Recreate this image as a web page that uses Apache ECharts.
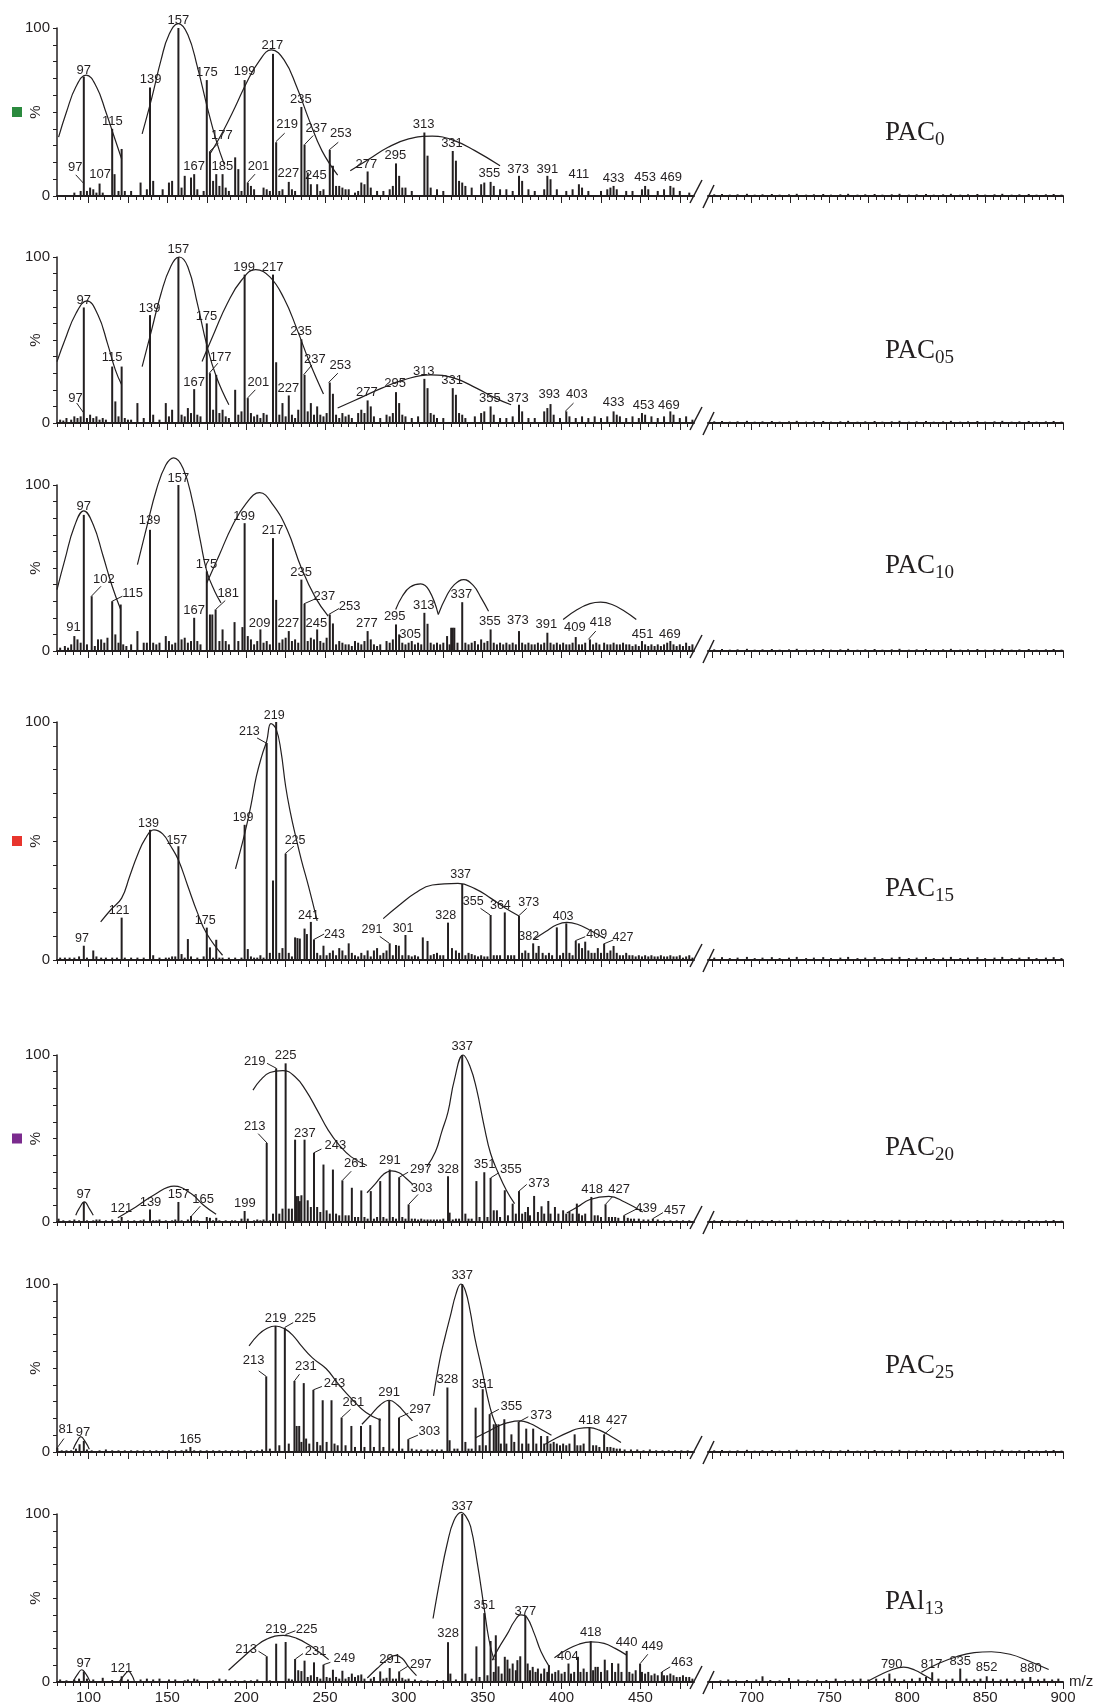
<!DOCTYPE html>
<html><head><meta charset="utf-8">
<script src="https://cdn.jsdelivr.net/npm/echarts@6/dist/echarts.min.js"></script>
<style>html,body{margin:0;padding:0;background:#fff}#c{width:1096px;height:1707px}</style>
</head><body><div id="c"></div>
<script>
// ---------------- DATA ----------------
const panelNames = [['PAC','0'],['PAC','05'],['PAC','10'],['PAC','15'],['PAC','20'],['PAC','25'],['PAl','13']];

const leftMajorTicks = [100,125,150,175,200,225,250,275,300,325,350,375,400,425,450,475];
const leftTickLabels = [100,150,200,250,300,350,400,450];
const rightMajorTicks = [675,700,725,750,775,800,825,850,875,900];
const rightTickLabels = [700,750,800,850,900];

// ---- PAC0 ----
const p1Bars = [[91,2],[95,3],[97,71],[99,3],[101,5],[103,4],[105,2],[107,7.4],[109,2],[115,40],[116.5,13],[119,3],[121,28],[123,3],[127,3],[133,8],[137,4],[139,64.6],[141,9],[147,4],[151,8],[153,9],[157,100],[159,5],[161,12],[165,11],[167,13],[169,4],[173,3],[175,69],[177,26.6],[179,9],[181,13],[183,6],[185,13],[187,5],[189,3],[193,23],[195,16],[197,3],[199,69],[201,8],[203,6],[205,4],[211,5],[213,4],[215,3],[217,84.6],[219,32],[221,3],[223,4],[227,8.4],[229,4],[231,3],[235,53],[237,30.6],[239,14],[241,7],[245,7],[247,3],[249,4],[253,27.4],[255,18],[257,6],[259,6],[261,5],[263,4],[265,4],[269,2],[271,3],[273,8],[275,7],[277,14.6],[279,5],[283,3],[287,3],[291,4],[293,6],[295,19.4],[297,12],[299,5],[301,5],[305,3],[313,37.8],[315,24],[317,5],[321,4],[325,3],[331,26.8],[333,21],[335,9],[337,8],[339,6],[343,5],[349,7],[351,8],[355,8.4],[357,6],[361,4],[365,4],[369,3],[373,12],[375,9],[379,4],[383,3],[389,4],[391,12],[393,10],[397,4],[403,3],[407,4],[411,7],[413,5],[417,3],[425,3],[429,4],[431,5],[433,6],[435,4],[441,3],[445,3],[451,4],[453,6],[455,4],[461,3],[465,4],[469,6],[471,5],[475,3],[481,2]];
const p1Labels = [[97,75,'97'],[157,104.6,'157'],[139.4,69.4,'139'],[175,73.4,'175'],[199,74,'199'],[216.6,89.6,'217'],[234.7,57.4,'235'],[115.1,44.6,'115'],
 [226,42.5,'219',218.9,32.4,224.4,37.4],[244.5,40.5,'237',237,30.6,242.5,36],[260,37,'253',252.6,27.4,258.4,32],[184.6,36,'177',176.9,26.6,182.4,31.4],
 [167,17.8,'167'],[184.9,17.8,'185'],[207.8,17.8,'201',200.8,8,205.6,13],[226.8,13.4,'227'],[244.2,12,'245'],[91.5,17,'97',97,7.4,91.9,12.6],[107.4,13,'107'],
 [276.2,19,'277'],[294.6,24,'295'],[312.5,42.6,'313'],[330.5,31,'331'],[354.2,13.4,'355'],[372.5,16,'373'],[391,15.6,'391'],[411,13,'411'],[433,10.4,'433'],[453,11,'453'],[469.5,11,'469']];
const p1Curves = [
 [[81,35],[86,50],[92,65],[98.5,72],[105,65],[111,50],[116,36],[121,22]],
 [[134,37],[140,58],[146,81],[151,96],[157,102.6],[163,96],[169,77],[175,54],[181,33],[186,19]],
 [[177,25],[185,38],[193,53],[200,67],[208,80],[216,87],[224,81],[232,65],[240,45],[248,27],[258,12.4]],
 [[266,15],[278,22],[290,29],[303,34],[318,35.6],[332,33],[345,27],[361,18]]];

// ---- PAC05 ----
const p2Bars = [[82,2],[84,1.5],[86,3],[89,2],[91,4],[93,3],[95,4],[97,69.6],[99,3],[101,5],[103,3],[105,4],[107,2],[109,3],[111,2],[115,34],[117,13],[119,4],[121,34],[123,3],[125,2],[127,2],[131,12],[135,3],[139,65],[141,5],[145,2],[149,12],[151,4],[153,8],[157,100],[159,5],[161,4],[163,9],[165,6],[167,20.4],[169,5],[171,4],[175,60],[177,30],[179,8],[181,29],[183,6],[185,8],[187,4],[189,3],[193,20],[195,5],[197,7],[199,89.4],[201,15],[203,6],[205,4],[207,5],[209,3],[211,6],[213,5],[217,89.4],[219,36.6],[221,5],[223,12],[225,4],[227,16.6],[229,5],[231,3],[233,8],[235,50.4],[237,29],[239,7],[241,12],[243,5],[245,10],[247,5],[249,4],[251,6],[253,24.4],[255,17.6],[257,5],[259,3],[261,6],[263,4],[265,5],[267,3],[271,6],[273,8],[275,6],[277,13.6],[279,10],[281,4],[285,3],[289,5],[291,4],[293,6],[295,18.6],[297,12],[299,5],[301,4],[305,3],[309,4],[313,26.6],[315,21],[317,6],[319,5],[321,3],[325,3],[331,21],[333,17],[335,6],[337,5],[339,3],[345,4],[349,6],[351,7],[355,10],[357,5],[361,3],[365,3],[369,4],[373,11],[375,7],[379,3],[383,3],[389,7],[391,9],[393,11.4],[395,5],[399,3],[403,7],[405,4],[409,3],[413,4],[417,3],[421,4],[425,3],[429,4],[433,7],[435,5],[437,4],[441,3],[445,4],[449,3],[451,6],[453,5],[457,4],[461,3],[465,4],[469,7],[471,5],[475,3],[479,4],[483,2]];
const p2Labels = [[97,74,'97'],[157,104.4,'157'],[138.7,69,'139'],[174.8,64.4,'175'],[198.7,94,'199'],[216.7,94,'217'],[234.8,55,'235'],[115,39.4,'115'],
 [183.8,39.6,'177',176.6,30,182,36],[167,24.4,'167'],[207.7,24.4,'201',200.8,15,205.8,20],[226.8,21,'227'],[243.5,38.6,'237',236.4,29,241.7,35],[259.7,34.4,'253',252.3,24.4,258.1,30],
 [91.7,15,'97',97,6,92.5,12],[276.5,18.4,'277'],[294.5,23.6,'295'],[312.6,31,'313'],[330.6,25.6,'331'],[354.5,14.6,'355'],[372.3,15,'373'],[392.2,17,'393'],
 [409.7,17,'403',402.3,7,407.6,12],[433,12.4,'433'],[452,10.6,'453'],[468,10.6,'469']];
const p2Curves = [
 [[80,37],[85,50],[92,66],[99,73.6],[106,65],[112,48],[117,32],[121,23]],
 [[134,34],[140,56],[146,78],[152,94],[157.5,100],[163,94],[169,72],[175,47],[181,28],[189,11]],
 [[172,37],[180,55],[188,72],[197,86],[206,92.4],[215,88],[224,75],[232,57],[240,37],[249,17.4]],
 [[258,9],[272,15],[286,21],[300,26],[317,29],[332,27],[346,21],[358,15],[368,11]]];

// ---- PAC10 ----
const p3Bars = [[82,2],[85,3],[87,2],[89,4],[91,9],[93,7],[95,5],[97,82],[99,4],[102,33],[104,3],[106,7],[108,7],[110,5],[112,8],[115,30],[117,10],[119,5],[120.4,28],[122,4],[124,3],[127,4],[131,12],[135,5],[137,5],[139,73],[141,5],[143,4],[145,5],[149,9],[151,6],[153,4],[155,5],[157,100],[159,7],[161,8],[163,5],[165,6],[167,20],[169,6],[171,4],[175,48],[177,22],[178.5,22],[180.6,25],[183,6],[185,13],[187,6],[189,4],[192.6,17.4],[195,6],[197.6,14.4],[199,77],[201,9],[203,7],[205,4],[207,6],[209,13],[211,5],[213,6],[215,4],[217,68],[219,30.8],[221,5],[223,7],[225,8],[227,12],[229,6],[231,7],[233,5],[235,43],[237,28.4],[239,6],[241,8],[243,7],[245,13],[247,6],[249,5],[251,8],[253,22],[255,16.6],[257,4],[259,6],[261,5],[263,4],[265,4],[267,3],[269,6],[271,5],[273,4],[275,6],[277,12],[279,7],[281,4],[283,3],[285,4],[289,6],[291,5],[293,7],[295,16],[297,10],[299,5],[301,4],[303,5],[305,6],[307,4],[309,5],[311,4],[313,23],[315,16.4],[317,5],[319,4],[321,5],[323,4],[325,5],[327.4,9],[329,4],[330,14],[331,14],[332,14],[334,5],[337,29.4],[339,5],[341,4],[343,5],[345,6],[347,4],[349,7],[351,5],[353,6],[355,13],[357,5],[359,4],[361,5],[363,4],[365,5],[367,4],[369,5],[371,4],[373,12],[375,5],[377,4],[379,5],[381,4],[383,4],[385,5],[387,4],[389,5],[391,11],[393,5],[395,4],[397,5],[399,4],[401,5],[403,4],[405,4],[407,5],[409,8.4],[411,4],[413,4],[415,5],[418,7],[420,4],[422,5],[424,4],[427,5],[429,4],[431,4],[433,5],[435,4],[437,4],[439,5],[441,4],[443,4],[445,3],[447,4],[449,3],[451,6],[453,4],[455,3],[457,4],[459,3],[461,4],[463,3],[465,4],[467,5],[469,6],[471,4],[473,3],[475,4],[477,3],[479,5],[481,3],[483,4]];
const p3Labels = [[97,87,'97'],[157,104,'157'],[138.7,78.4,'139'],[198.7,81,'199'],[216.7,72.4,'217'],[174.8,52.4,'175'],[234.8,47.6,'235'],
 [109.7,43,'102',101.8,33,107.9,39],[128,34.5,'115',115,30,121.5,33],[90.4,14,'91'],[167,24.6,'167'],[188.6,34.4,'181',180.6,25,186.7,30.4],
 [208.5,16.4,'209'],[226.8,16.4,'227'],[249.6,33,'237',236.6,28.4,244.3,31.6],[244.5,16.5,'245'],[265.6,27,'253',252.3,22,258.9,25.6],
 [276.5,16.4,'277'],[294.2,21,'295'],[304,10,'305'],[312.6,27.6,'313'],[336.4,34,'337'],[354.5,18,'355'],[372.3,18.6,'373'],[390.3,16,'391'],[408.4,14,'409'],
 [424.8,17.4,'418',417,7,421.7,12],[451.4,10,'451'],[468.7,10,'469']];
const p3Curves = [
 [[80,37],[85,55],[91,75],[97,84.4],[103,76],[109,58],[115,39],[120.4,25]],
 [[131,52],[137,75],[143,97],[149,112],[154,116.4],[160,110],[166,90],[171,66],[175,48],[180,36],[184,29]],
 [[175,41],[183,58],[191,75],[200,89],[208.5,95.4],[217,88],[226,73],[235,50],[244,32],[252,21]],
 [[294.8,25],[299,33],[304,38.5],[310.7,40.4],[316,36.5],[321.8,22]],
 [[321.8,22],[327,33],[332,40],[338,43],[344,39.5],[349,32],[353.7,24]],
 [[401,19],[410,25],[418,28.5],[424.8,29.4],[432,28],[440,24],[447.4,19]]];

// ---- PAC15 ----
const p4Bars = [[82,1],[85,1],[88,1],[91,1],[94,1.5],[97,6],[99,1],[103,4],[105,1.5],[108,1],[111,1],[115,1],[118,1],[121,17.8],[123,1],[127,1],[131,1],[135,1],[139,54.7],[141,2],[145,1],[149,1],[151,1],[153,1.5],[155,1.5],[157,47.8],[159,2.5],[161,1],[163,8.8],[165,1.5],[169,1],[173,1.5],[175,13.6],[177,5.3],[179,1],[181,8.5],[183,1],[185,1],[189,1],[193,1],[197,1],[199,56.8],[201,4.6],[203,1.5],[205,1],[207,1],[209,2],[211,1],[213,91.2],[215,3],[217,33.4],[219,100],[221,3],[223,5],[225,44.7],[227,3],[229,1.5],[231,9.5],[232.5,9.2],[234,9],[237,13.2],[238.5,10.9],[241,16],[243,8.5],[245,3],[247,2],[249,6],[251,2],[253,3],[255,4],[257,2],[259,5],[261,4],[263,2],[265,7],[267,3],[269,2],[271,1.5],[273,3],[275,2],[277,4],[279,1.5],[281,4],[283,5],[285,2],[287,3],[289,4],[291,7],[293,2],[295,6.3],[296.8,6],[299,2],[301,10.5],[303,2],[305,1.5],[307,2],[309,1.5],[312,9.5],[315,8],[317,2],[319,2.5],[321,3],[323,2],[325,2],[328,15.7],[330.5,5],[333,4],[335,3],[337,32],[339,2],[341,3],[343,2.5],[345,2],[347,1.5],[349,2],[351,1.5],[353,1.5],[355,18.9],[357,2],[359,2],[361,2],[364,20],[366,2],[368,2],[370,2],[373,18.5],[375,3],[377,4],[379,3],[382,7],[384,3],[385.5,5.9],[388,3],[390,2],[392,3],[394,2],[397,13.7],[399,2],[401,3],[403,15.4],[405,3],[407,2],[409,8],[411,7],[413,5],[415,7.7],[417,4],[419,3],[421,3],[423,5],[425,3],[427,6.7],[429,3],[431,4],[433,5.9],[435,3],[437,2],[439,2],[441,3],[443,2],[445,2],[447,1.5],[449,2],[451,1.5],[453,2],[455,1.5],[457,2],[459,1.5],[461,1.5],[463,2],[465,1.5],[467,1.5],[469,2],[471,1.5],[473,1.5],[475,2],[477,1],[479,1.5],[481,2],[483,1]];
const p4Labels = [[95.8,9,'97'],[119.4,20.6,'121'],[138,57.5,'139'],[156,50.3,'157'],[174,16.4,'175'],[198,60,'199'],
 [202,96,'213',212.6,91.2,206.9,93.3],[217.8,102.8,'219'],[231,50.3,'225',224.7,44.7,230.2,47.8],[239.5,18.8,'241'],[256,10.9,'243',242.6,8.5,249.4,10.9],
 [279.8,13,'291',290.8,7,284.7,9.9],[299.5,13.2,'301'],[326.5,18.5,'328'],[336,36,'337'],[344,24.5,'355',354.7,18.9,348.6,21.7],[361.2,22.7,'364'],
 [379.2,24.2,'373',372.7,18.5,377.9,21.7],[379.2,9.8,'382'],[401,18.2,'403'],[422.3,10.5,'409',408.7,8.1,415,9.8],[439,9.5,'427',426.5,6.7,432.8,8.4]];
const p4Curves = [
 [[107.7,16],[114,21],[121,26],[126,35],[131,44],[136,51],[141.4,54.7],[147,53],[152,48],[157,42],[163,31],[169,20],[175,11],[185,2]],
 [[193.2,38.3],[199,53],[203,65],[206.4,77],[210,86],[213,92],[215.7,99.3],[219,97],[222,88],[225,73],[228,62],[231,53],[235,42],[239.5,31],[245,16.4]],
 [[286.9,17.4],[297,23],[307,28],[318,31.5],[334.3,32.2],[345,30],[355,26],[364,22],[373,18.5]],
 [[382.5,8.7],[390,12],[397,14.8],[403.4,15.8],[410,15],[418,12.5],[427.5,9]]];

// ---- PAC20 ----
const p5Bars = [[81,2],[84,1],[88,1],[91,1.5],[94,1],[97,12],[99,1],[103,1],[105,1.5],[107,1.5],[111,1],[115,1.5],[119,1],[121,3],[125,1],[129,1],[133,1],[135,1.5],[139,7.5],[141,1],[143,1],[145,1.5],[149,1],[153,1],[155,1.5],[157,12],[159,1],[163,1.5],[165,3.6],[167,1],[169,1],[175,3],[177,2.5],[179,1],[181,2.5],[183,1],[187,1],[191,1],[193,1],[197,2],[199,6.6],[201,2],[205,1],[207,1.5],[209,1],[211,1.5],[213,47.3],[215,1],[217,5],[219,92],[221,5],[223,8],[225,95],[227,8],[229,8],[231,49.3],[232,15.5],[233,15.5],[234,12.5],[235,16],[237,49.3],[239,13],[241,9],[243,41.4],[245,9],[247,6],[249,34.4],[251,7],[253,5],[255,31.4],[257,5],[259,4],[261,24.9],[263,4],[265,4],[267,20.5],[269,3],[271,3],[273,18.9],[275,3],[277,2],[279,18.5],[281,2],[283,3],[285,24.5],[287,3],[289,2],[291,31.4],[293,3],[295,2],[297,26.8],[299,3],[301,2],[303,10.5],[305,2],[307,2],[309,1.5],[311,2],[313,1.5],[315,1.5],[317,1.5],[319,1.5],[321,1.5],[323,1.5],[325,2],[328,27.4],[329,5.6],[331,1.5],[333,2],[335,2],[337,100],[339,5],[341,2],[343,2],[346,24.5],[348,3],[351,29.8],[353,3],[355,26.4],[357,7],[359,7],[361,3],[364,19],[366,4],[369,11],[371,5],[373,18.5],[375,5],[377,6],[378.7,9],[380,4],[382.6,15.6],[385,6],[387.3,9.4],[389,5],[391.6,12.6],[393,5],[395.8,9],[398,5],[401,7],[403,5],[405,6],[407,5],[409.7,11],[411,5],[413,4],[415,5],[418.9,15],[421,4],[423,4],[425,3],[427.9,10.6],[430,3],[432,3],[434,3],[436,2.5],[439.7,4],[442,2.5],[444,2],[446,2],[449,2],[452,1.5],[455,1.5],[457.9,2],[461,1.5],[465,1],[469,1],[473,1],[477,1],[481,1]];
const p5Labels = [[97,16.5,'97'],[120.8,8.2,'121'],[139.3,12,'139'],[157.1,16.5,'157'],[172.7,13.5,'165',165.3,3.6,170.9,9.5],[199.2,11,'199'],
 [205.4,57.3,'213',213.2,47.3,207.6,52.9],[205.4,96,'219',219.2,92,213.2,95],[225,100,'225'],[237.2,53.3,'237'],[256.6,45.7,'243',242.8,41.4,247.7,43.7],
 [268.9,34.8,'261',261,24.9,266.6,30.4],[291.1,37,'291'],[310.7,31.4,'297',297.1,26.8,302.7,29.8],[311.2,19.9,'303',303,10.5,309,16.5],
 [328,31.4,'328'],[337,105,'337'],[351.2,34.4,'351'],[367.9,31.4,'355',355,26.4,360.1,29.4],[385.7,23,'373',373,18.5,377.9,22.5],
 [419.4,19.4,'418'],[436.5,19.4,'427',427.9,10.6,432.2,15],[453.6,8,'439',439.7,4,447.2,7.6],[471.8,7,'457',457.9,2,464.3,5.6]];
const p5Curves = [
 [[91.9,4],[94,8],[97.4,12],[100.5,8],[103,4]],
 [[118.6,2.6],[130,9],[142,16.5],[154.2,21.5],[165,17],[173,10],[180.9,4.6]],
 [[204.3,79],[209,85],[215,89.5],[223.2,90.7],[231,87],[237.7,79],[245,67],[252,55],[259,46],[266.6,39],[276.6,33.8]],
 [[276.6,17.5],[282,23],[287,28.5],[292.2,30.6],[297,29.5],[301,26.5],[305.6,22.5]],
 [[314.5,33],[320,42],[324,54],[328,66],[332,85],[337.6,100],[342,93],[346,80],[351,57],[355,41],[360,29],[365,19],[370.2,11]],
 [[403.3,5.4],[410,9],[418,13.5],[430,15.4],[440,12],[451.5,6]]];

// ---- PAC25 ----
const p6Bars = [[80.2,2.6],[83,1],[86,1],[89,1],[92,2],[94.3,4.6],[97,6.6],[99,1.5],[102,1],[107,1],[111,1.5],[115,1],[119,1],[123,1],[127,1],[131,1],[135,1],[139,1],[143,1],[147,1],[151,1],[155,1],[159,1],[162,1.5],[164.6,3],[167,1],[171,1],[175,1],[179,1],[183,1],[187,1],[191,1],[195,1],[199,1],[203,1],[207,1],[210,1.5],[212.7,45],[215,2],[218.6,75],[221,4],[224.5,74],[227,5],[230.6,42.3],[232,15.5],[233.6,15.5],[235,6],[236.5,41],[238,8],[240,5],[242.6,37],[245,6],[247,4],[248.5,30.8],[251,6],[254.1,30.8],[256,5],[258,4],[260.5,20.5],[263,4],[266.7,15.5],[269,3],[272.8,15.5],[275,3],[278.7,16],[281,3],[284.6,20],[287,3],[290.7,30.8],[293,2],[296.9,20.5],[299,2],[302.8,7.6],[305,2],[308,1.5],[311,1.5],[315,1.5],[318,1.5],[321,1.5],[324,1.5],[327.6,38.4],[329,7],[332,2],[334,2],[337,100],[339,6],[341,2],[343,2],[345.5,26.4],[348,4],[350,37.4],[352,4],[354.4,22.5],[357,16.5],[358.5,16.5],[360,16.5],[361.5,5],[363.7,19.5],[365,5],[368.2,10.5],[370,6],[372.8,18],[375,5],[377.6,13.9],[379,5],[382,13.9],[384,5],[387,9.5],[389,5],[391,9.5],[393,5],[395,6],[397,5],[399,4],[401,5],[403,4],[405,5],[408.3,10.5],[410,4],[412,4],[414,5],[417.7,14.5],[420,4],[422,4],[424,3],[427,10.5],[429,3],[431,3],[433,2.5],[435,2],[437,2],[440,1.5],[444,1.5],[448,1.5],[452,1],[456,1.5],[460,1],[464,1],[468,1],[472,1],[476,1],[480,1]];
const p6Labels = [[85.5,13.5,'81',80.2,2.6,84.4,8],[96.5,11.5,'97'],[164.6,7.6,'165'],[204.7,54.3,'213',212.7,45,207.9,48.3],[218.6,79.5,'219'],
 [237.3,79.5,'225',224.5,74.2,229.8,77],[237.8,50.9,'231',230.6,42.3,233.8,46.3],[256,41,'243',242.6,37,248,39],[268,29.8,'261',260.5,20.5,266.2,25.4],
 [290.7,35.4,'291'],[310.3,25.4,'297',296.9,20.5,302.8,23],[316.1,12.5,'303',302.8,7.6,308.9,10],[327.6,43,'328'],[337,105,'337'],[350,40.4,'351'],
 [368.2,27.4,'355',354.4,22.5,360.2,25.4],[387,21.9,'373',372.8,17.9,378.9,21],[417.7,18.9,'418'],[435,18.9,'427',427,10.5,431.8,14.5]];
const p6Curves = [
 [[90.3,1.6],[92.5,6],[95.1,9.1],[98,6],[100.5,1.6]],
 [[201.8,63.2],[207.9,70],[213,73.5],[218.6,75],[225,73],[230,69],[234.6,63.6],[242,56],[250.6,49.7],[258,41],[266.7,31.8],[276,23.5],[285.4,18.9]],
 [[273.4,16.5],[279,22],[285,28],[290.7,30.8],[296,28],[301,23],[305.4,18.5]],
 [[318.8,33.4],[322.8,55],[326,68],[329.5,81],[333,94],[336.2,100],[339,96],[342,84],[345,68],[349.5,49],[353,33],[356,22],[358.9,15]],
 [[345.5,8.5],[353,12],[360,15.5],[366,17.5],[373.6,18.5],[380,17],[386,14],[393.6,10]],
 [[389.6,4.6],[397,8.5],[405,12],[411,14],[417.7,14.5],[424,13],[431,9.5],[437.7,5.6]]];

// ---- PAl13 ----
const p7Bars = [[82,1.5],[86,1],[91,1.5],[94,2],[97,6.3],[99,2],[103,1.5],[109,2.5],[115,1.2],[121,3.4],[125,1.5],[133,1.5],[137,2],[141,1.5],[145,2],[151,1.5],[155,1.5],[161,1],[163,1.5],[167,2],[169,1.5],[179,1],[183,2],[187,1.5],[193,1],[199,1],[203,1],[207,1.5],[213,15.3],[215,1],[219,22.8],[225,23.8],[227,2],[229,1.5],[231,13.7],[233,7],[235,6.5],[237,12.7],[239,3],[241,4],[243,11.7],[245,3],[247,2],[249,10.3],[251,3],[253,2.5],[255,7.3],[257,3],[259,2],[261,6.7],[263,2],[265,3],[267,5],[269,3],[271,4],[273,4.5],[275,2],[279,2],[281,3],[285,6.3],[287,2],[289,2.5],[291,8.3],[293,2],[295,2],[297,6.3],[299,2.5],[301,1.5],[303,2],[307,1.5],[311,1],[315,1],[321,1.2],[325,1],[328,23.7],[329.5,5],[333,1.5],[337,100],[339,5],[343,2],[346,21.2],[348,3],[351,41],[353,4],[355,24.4],[357,6],[358.3,27.8],[360,9.3],[362,5],[364,15],[365.7,13.3],[367,8],[369,11],[371,7],[372,13],[373.8,15.3],[377,39.7],[378.5,11],[380,7],[381.7,9],[383.5,6],[385,8],[387,5],[389,8],[391,6],[392,10],[394,5],[396,6],[398,7],[400,5],[402,6],[404.4,11],[406,5],[408,6],[410.4,15],[412,6],[414,8],[416,6],[418.5,24.3],[420,7],[421.5,9],[423,9],[425,6],[427.4,13.3],[429,7],[432,11.3],[434,6],[436,11],[438,6],[441.3,18.5],[443,6],[445,5],[447,7],[449.8,10.9],[451,6],[453,5],[455,6],[457,4],[459,5],[461,4],[463.6,6],[465,4],[467,4],[469,5],[471,4],[473,3],[475,3],[477,4],[479,3],[481,3],[483,2]];
const p7Labels = [[97,11.3,'97'],[120.8,8.3,'121'],[200,19.2,'213',212.9,15.3,207.8,18.3],[218.9,31.5,'219'],[238.3,31.5,'225',224.9,28.2,231.2,30.5],
 [244,18.3,'231',231.2,13.7,236,16.9],[262.3,13.9,'249',249,10.3,253.4,11.7],[291.3,13.3,'291'],[310.7,10.3,'297',297.3,6.3,302.4,9.3],
 [328.1,28.8,'328'],[337,104.6,'337'],[351,45.4,'351'],[377,42.3,'377'],[404,15.3,'404'],[418.5,29.8,'418'],[441.3,23.3,'440'],
 [457.6,20.9,'449',449.8,10.9,454.7,16.5],[476.4,11.9,'463',463.6,6,468.9,9]];
const p7Curves = [
 [[90.3,0.4],[93,4.5],[95.7,7.3],[98.5,4.5],[100.8,0.4]],
 [[119.7,0.4],[122.5,4],[125.3,6.3],[127.5,4],[129.1,0.4]],
 [[188.8,7],[197,14],[205,20.5],[213,25.5],[223.4,27.8],[232,26],[240,22],[246,18],[252.3,13.3]],
 [[276.8,2.4],[283,8],[289,13],[294.7,15.9],[299,14],[303,9],[308,3.8]],
 [[318.5,37.8],[323.2,62.6],[327.4,82],[331.7,96],[336.4,101],[339,99],[342.3,92.6],[346.6,70.6],[350.8,44.7],[354,25],[357.2,13]],
 [[356,13],[360,20],[365.7,28.8],[370,36],[374.2,40],[378,38.5],[382.7,28.8],[387,18],[392.3,9]],
 [[395.5,14.5],[403,19],[411,22.5],[418.9,23.9],[427,23],[434,20],[441.3,16]]];
const p7TailBars = [[680,1],[685,1.5],[690,1],[697,1.2],[703,1.5],[707,3.4],[712,1.2],[718,1],[724,2.4],[730,1.5],[736,1],[742,1.5],[748,1.2],[754,2],[760,1],[765,1.5],[770,2],[775,1.5],[780,2],[785,2],[788.5,5],[792,2],[798,1.5],[803,2],[808,2.5],[812,3],[816,5.8],[820,2],[825,1.5],[829,2],[834,8],[838,2],[843,1.5],[847,2],[851,3.4],[855,2],[860,1.5],[864,2],[869,1.5],[874,2],[879,3],[884,1.5],[888,2],[893,1.5],[897,2]];
const p7TailLabels = [[790,10.5,'790'],[815.6,10.4,'817'],[834,12.4,'835'],[851,8.4,'852'],[879.3,7.8,'880']];
const p7TailCurves = [
 [[774.7,0.4],[782,4],[790,7.3],[797.7,8.8],[805,7],[811,4],[816,1.4]],
 [[809,5.8],[820,11],[832,15.2],[843,17.5],[854,18],[866,16.5],[878,12.5],[890.8,7.4]]];

// tiny baseline noise on the 672-900 segment of PAC0..PAC25
const tailNoise = [[676,1],[681,1.2],[686,0.8],[691,1],[697,1.3],[702,0.8],[707,1],[713,1.2],[718,0.8],[724,1],[729,1.3],[735,0.8],[740,1],[746,1.2],[751,0.8],[757,1],[762,1.3],[768,0.8],[773,1],[779,1.2],[784,0.8],[790,1],[795,1.3],[801,0.8],[806,1],[812,1.2],[817,0.8],[823,1],[828,1.3],[834,0.8],[839,1],[845,1.2],[850,0.8],[856,1],[861,1.3],[867,0.8],[872,1],[878,1.2],[883,0.8],[889,1],[894,1.2],[899,0.8]];

// ---------------- LAYOUT / STYLE ----------------
const INK = '#231f20';
const FONT = '"Liberation Sans", Arial, sans-serif';
const layout = [
 {top:28, height:168, nameY:133, fs:13},
 {top:257, height:166, nameY:351, fs:13},
 {top:485, height:166, nameY:566, fs:13},
 {top:722, height:238, nameY:889, fs:12.5},
 {top:1055, height:167, nameY:1148, fs:13},
 {top:1284, height:168, nameY:1366, fs:13},
 {top:1514, height:168, nameY:1602, fs:13}];
const SEG_L = {left:57, width:637, min:80, max:484};
const SEG_R = {left:708, width:355, min:672, max:900};
const squares = [{panel:0, color:'#2b8a3e'},{panel:3, color:'#e8352d'},{panel:4, color:'#7b2b8e'}];

const panels = [
 {bars:p1Bars, labels:p1Labels, curves:p1Curves, tBars:tailNoise, tLabels:[], tCurves:[]},
 {bars:p2Bars, labels:p2Labels, curves:p2Curves, tBars:tailNoise, tLabels:[], tCurves:[]},
 {bars:p3Bars, labels:p3Labels, curves:p3Curves, tBars:tailNoise, tLabels:[], tCurves:[]},
 {bars:p4Bars, labels:p4Labels, curves:p4Curves, tBars:tailNoise, tLabels:[], tCurves:[]},
 {bars:p5Bars, labels:p5Labels, curves:p5Curves, tBars:tailNoise, tLabels:[], tCurves:[]},
 {bars:p6Bars, labels:p6Labels, curves:p6Curves, tBars:tailNoise, tLabels:[], tCurves:[]},
 {bars:p7Bars, labels:p7Labels, curves:p7Curves, tBars:p7TailBars, tLabels:p7TailLabels, tCurves:p7TailCurves}];

function minorTicks(seg){ const t=[]; for(let v=Math.ceil(seg.min/5)*5; v<=seg.max; v+=5) t.push(v); return t; }

function mainX(g, seg){
  return {type:'value', gridIndex:g, min:seg.min, max:seg.max, position:'bottom',
    axisLine:{show:true, onZero:false, lineStyle:{color:INK, width:2}},
    axisTick:{show:true, customValues:minorTicks(seg), length:4, lineStyle:{color:INK, width:1}},
    axisLabel:{show:false}, splitLine:{show:false}};
}
function overlayX(g, seg, ticks, labels, name){
  return {type:'value', gridIndex:g, min:seg.min, max:seg.max, position:'bottom',
    axisLine:{show:false, onZero:false},
    axisTick:{show:true, customValues:ticks, length:7, lineStyle:{color:INK, width:1}},
    axisLabel: labels ? {show:true, customValues:labels, fontSize:15, color:INK, margin:8, fontFamily:FONT} : {show:false},
    splitLine:{show:false},
    name: name || '', nameLocation:'end', nameGap:6, nameTextStyle:{fontSize:15, color:INK, fontFamily:FONT}};
}
function labelSeries(labels, xi, yi, fs){
  return {type:'custom', xAxisIndex:xi, yAxisIndex:yi, clip:false, silent:true, z:6,
    data: labels.map(l => [l[0], l[1]]),
    renderItem: (params, api) => {
      const l = labels[params.dataIndex];
      const c = api.coord([l[0], l[1]]);
      const children = [{type:'text', x:c[0], y:c[1], style:{text:l[2], fontSize:fs, fontFamily:FONT, fill:INK, align:'center', verticalAlign:'middle'}}];
      if (l.length > 3) {
        const a = api.coord([l[3], l[4]]), b = api.coord([l[5], l[6]]);
        children.push({type:'line', shape:{x1:a[0], y1:a[1], x2:b[0], y2:b[1]}, style:{stroke:INK, lineWidth:1}});
      }
      return {type:'group', children};
    }};
}
function curveSeries(c, xi, yi){
  return {type:'line', xAxisIndex:xi, yAxisIndex:yi, data:c, smooth:0.45, symbol:'none', showSymbol:false, clip:false, silent:true, z:4,
    lineStyle:{color:INK, width:1.2}};
}
function barSeries(d, xi, yi){
  return {type:'bar', xAxisIndex:xi, yAxisIndex:yi, data:d, barWidth:2, silent:true, z:2, itemStyle:{color:INK}};
}

const grid=[], xAxis=[], yAxis=[], series=[], graphic=[];
const measure = document.createElement('canvas').getContext('2d');
const brkX = SEG_L.left + SEG_L.width;

layout.forEach((L, i) => {
  const last = i === layout.length - 1;
  const P = panels[i];
  const gL = grid.length; grid.push({left:SEG_L.left, width:SEG_L.width, top:L.top, height:L.height, outerBoundsMode:'none', containLabel:false});
  const gR = grid.length; grid.push({left:SEG_R.left, width:SEG_R.width, top:L.top, height:L.height, outerBoundsMode:'none', containLabel:false});
  const xL = xAxis.length; xAxis.push(mainX(gL, SEG_L)); xAxis.push(overlayX(gL, SEG_L, leftMajorTicks, last ? leftTickLabels : null, ''));
  const xR = xAxis.length; xAxis.push(mainX(gR, SEG_R)); xAxis.push(overlayX(gR, SEG_R, rightMajorTicks, last ? rightTickLabels : null, last ? 'm/z' : ''));
  const yL = yAxis.length;
  yAxis.push({type:'value', gridIndex:gL, min:0, max:100, interval:10,
    axisLine:{show:true, lineStyle:{color:INK, width:1.5}},
    axisTick:{show:true, length:4, lineStyle:{color:INK, width:1}},
    axisLabel:{formatter: v => (v === 0 || v === 100) ? String(v) : '', fontSize:15, color:INK, margin:7, fontFamily:FONT},
    splitLine:{show:false},
    name:'%', nameLocation:'middle', nameRotate:90, nameGap:14, nameMoveOverlap:false,
    nameTextStyle:{fontSize:15, color:INK, fontFamily:FONT}});
  const yR = yAxis.length;
  yAxis.push({type:'value', gridIndex:gR, min:0, max:100, show:false});

  series.push(barSeries(P.bars, xL, yL));
  P.curves.forEach(c => series.push(curveSeries(c, xL, yL)));
  series.push(labelSeries(P.labels, xL, yL, L.fs));
  series.push(barSeries(P.tBars, xR, yR));
  P.tCurves.forEach(c => series.push(curveSeries(c, xR, yR)));
  if (P.tLabels.length) series.push(labelSeries(P.tLabels, xR, yR, L.fs));

  // axis break marks
  const y0 = L.top + L.height;
  graphic.push({type:'line', shape:{x1:brkX - 4, y1:y0+7, x2:brkX + 8, y2:y0-16}, style:{stroke:INK, lineWidth:1.5}});
  graphic.push({type:'line', shape:{x1:brkX + 9, y1:y0+12, x2:brkX + 20, y2:y0-11}, style:{stroke:INK, lineWidth:1.5}});

  // sample names
  const [main, sub] = panelNames[i];
  measure.font = '27px "Liberation Serif"';
  const w = measure.measureText(main).width;
  graphic.push({type:'text', x:885, y:L.nameY, style:{text:main, font:'27px "Liberation Serif", serif', fill:INK, align:'left', verticalAlign:'middle'}});
  graphic.push({type:'text', x:885 + w, y:L.nameY + 7, style:{text:sub, font:'19px "Liberation Serif", serif', fill:INK, align:'left', verticalAlign:'middle'}});
});

squares.forEach(s => {
  const L = layout[s.panel];
  const cy = L.top + L.height / 2;
  graphic.push({type:'rect', shape:{x:12, y:cy - 5, width:10, height:10}, style:{fill:s.color}});
});

const chart = echarts.init(document.getElementById('c'), null, {renderer:'canvas'});
chart.setOption({animation:false, backgroundColor:'#fff', textStyle:{fontFamily:FONT}, grid, xAxis, yAxis, series, graphic});
</script></body></html>
